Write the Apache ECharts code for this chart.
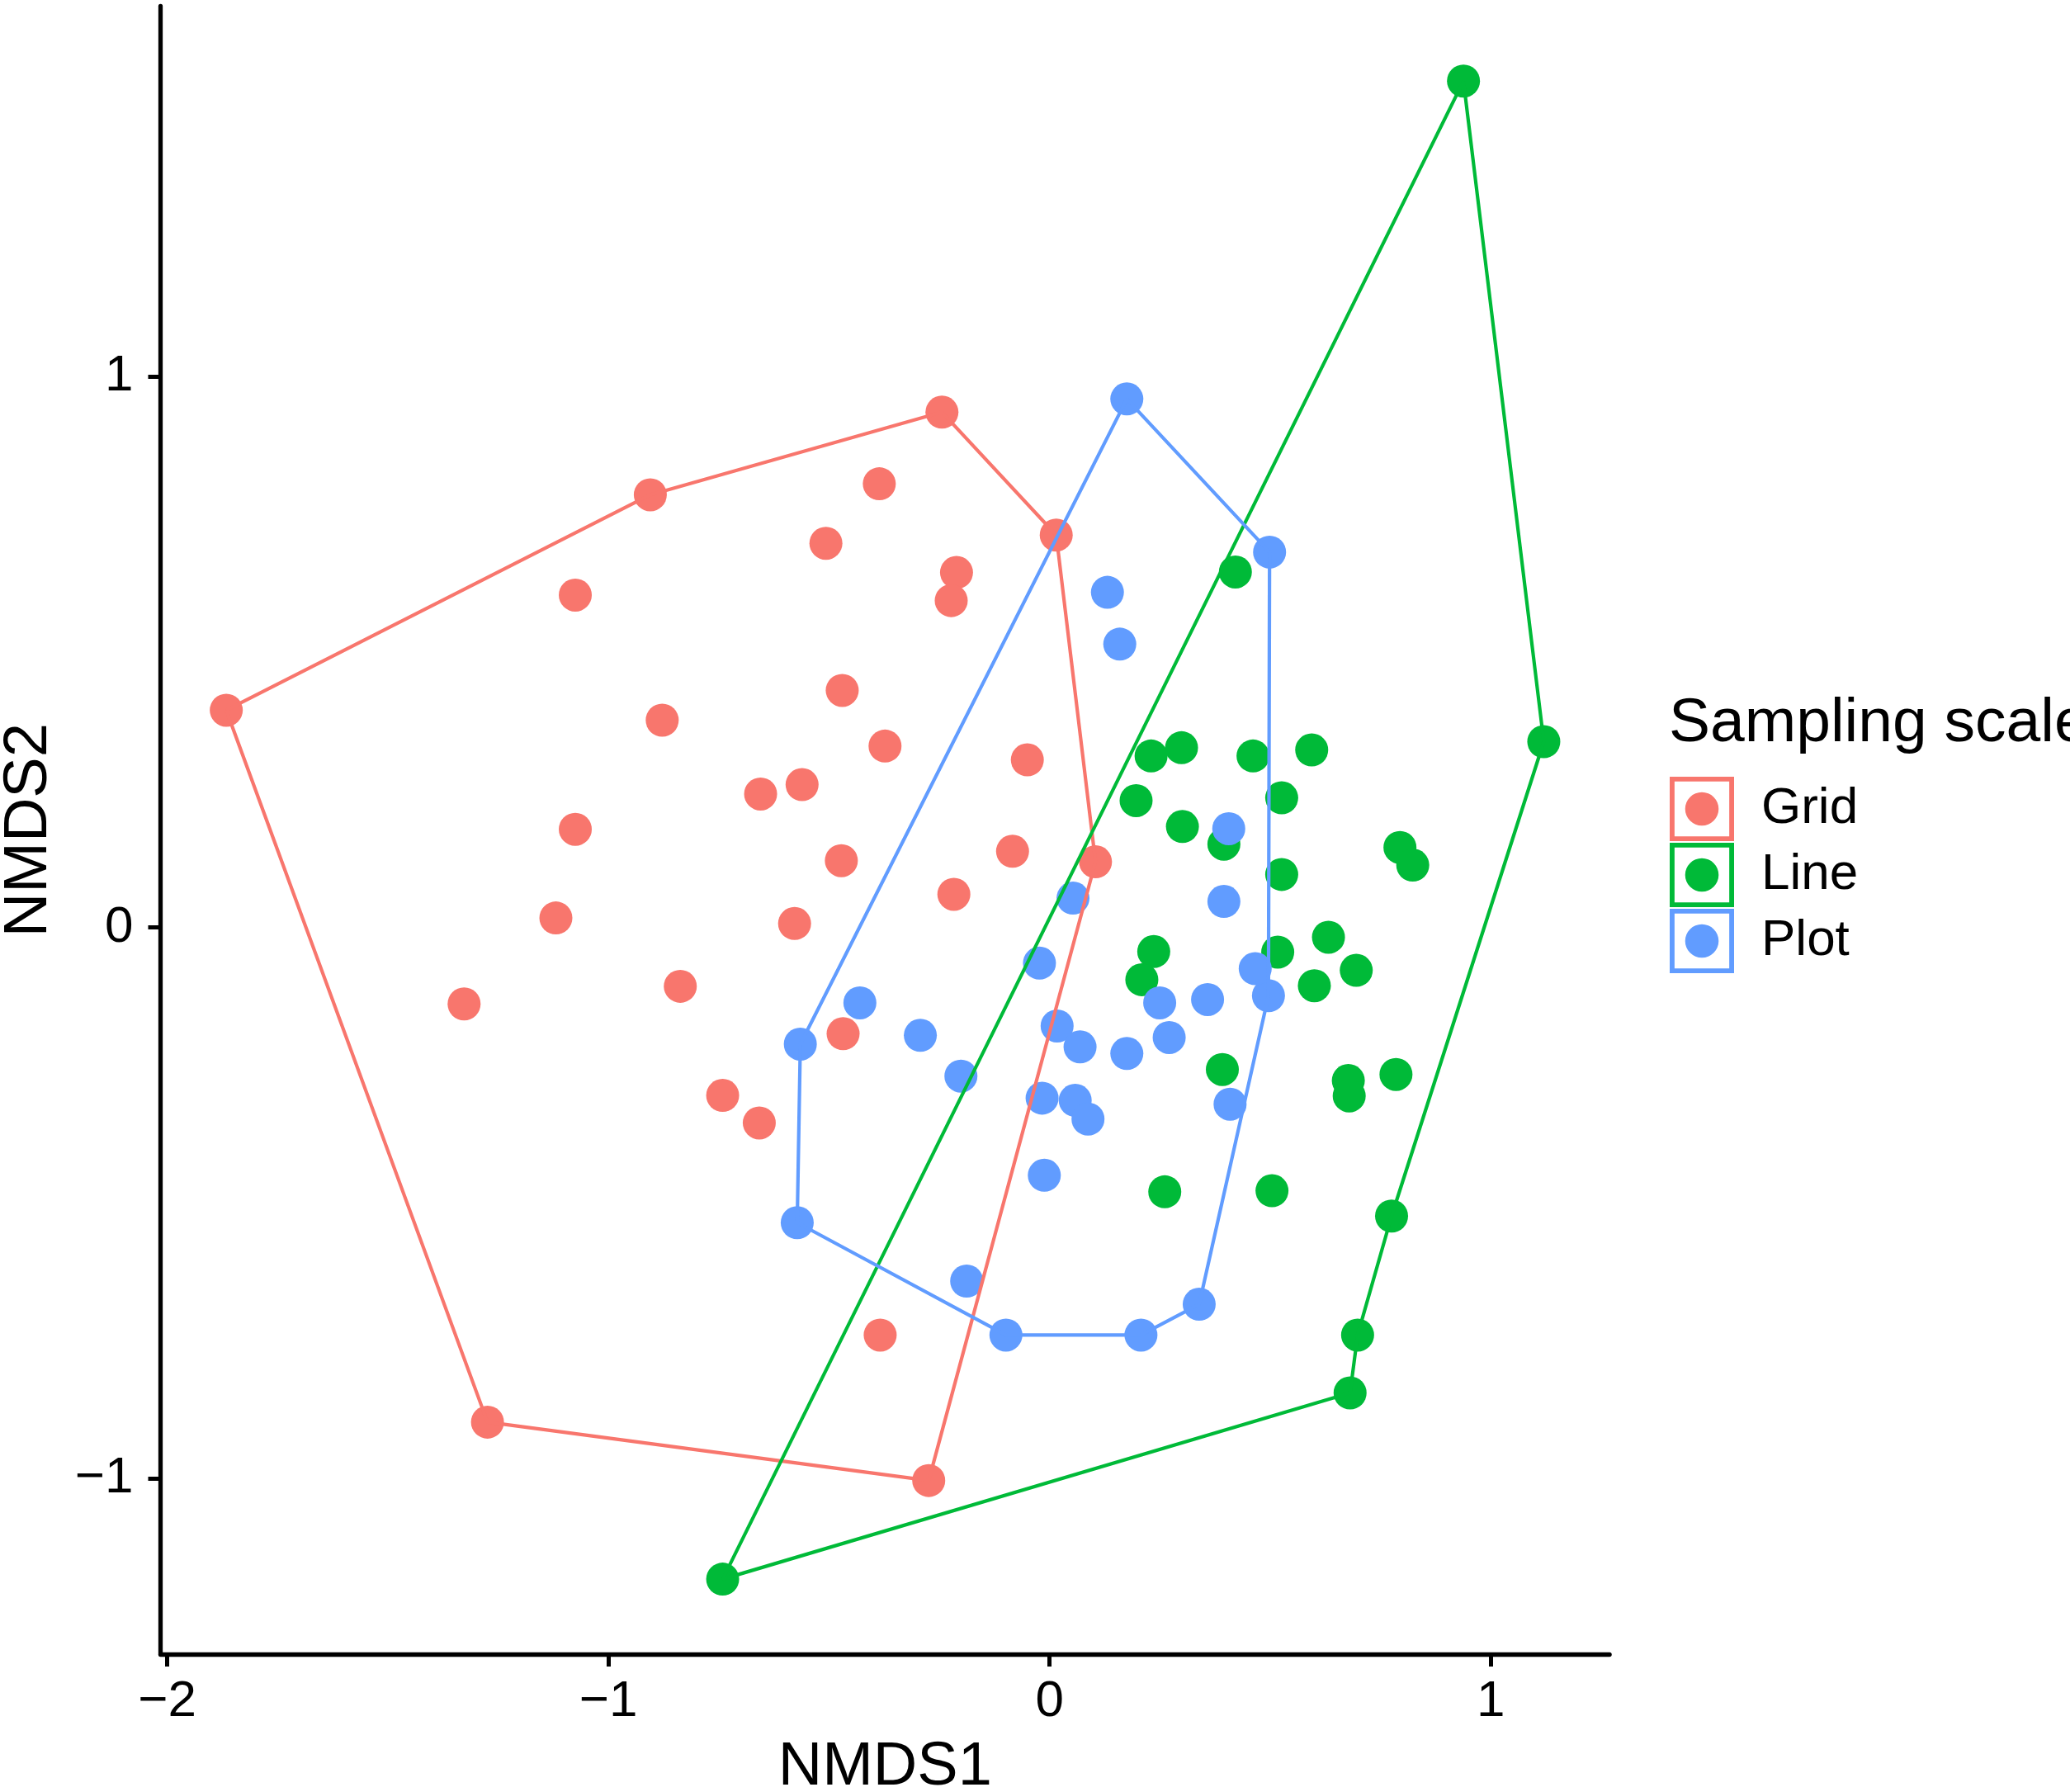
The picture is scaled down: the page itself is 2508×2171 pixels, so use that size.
<!DOCTYPE html>
<html>
<head>
<meta charset="utf-8">
<script src="https://cdn.jsdelivr.net/npm/echarts@6/dist/echarts.min.js"></script>
<style>
html,body{margin:0;padding:0;background:#fff;}
#chart{width:2508px;height:2171px;}
</style>
</head>
<body>
<div id="chart"></div>
<script>
// ---- data (NMDS1, NMDS2); hull vertices listed first in each group ----
const gridPoints = [
  [-1.866, 0.394], [-0.905, 0.785], [-0.244, 0.935], [0.015, 0.712], [0.104, 0.119],
  [-0.274, -1.004], [-1.274, -0.898],
  [-0.386, 0.805], [-0.507, 0.697], [-0.211, 0.644], [-0.223, 0.593], [-1.075, 0.603],
  [-0.470, 0.430], [-0.878, 0.376], [-0.373, 0.329], [-0.561, 0.259], [-0.655, 0.242],
  [-0.0505, 0.304], [-1.075, 0.178], [-0.472, 0.121], [-0.217, 0.060], [-1.119, 0.017],
  [-0.578, 0.007], [-1.327, -0.139], [-0.837, -0.107], [-0.468, -0.193], [-0.741, -0.305],
  [-0.658, -0.355], [-0.384, -0.740], [-0.084, 0.138]
];
const linePoints = [
  [0.938, 1.536], [1.120, 0.337], [0.775, -0.524], [0.698, -0.740], [0.681, -0.845],
  [-0.741, -1.183],
  [0.421, 0.645], [0.230, 0.311], [0.299, 0.326], [0.461, 0.311], [0.594, 0.322],
  [0.196, 0.230], [0.526, 0.235], [0.301, 0.183], [0.395, 0.151], [0.526, 0.096],
  [0.794, 0.145], [0.823, 0.113], [0.236, -0.044], [0.209, -0.095], [0.517, -0.045],
  [0.632, -0.018], [0.695, -0.078], [0.600, -0.106], [0.3915, -0.258], [0.677, -0.278],
  [0.679, -0.306], [0.785, -0.267], [0.261, -0.480], [0.504, -0.478]
];
const plotPoints = [
  [0.175, 0.959], [0.4985, 0.681], [0.496, -0.124], [0.339, -0.684], [0.207, -0.740],
  [-0.099, -0.740], [-0.572, -0.536], [-0.565, -0.212],
  [0.131, 0.608], [0.159, 0.514], [0.406, 0.179], [0.053, 0.053], [0.395, 0.047],
  [-0.023, -0.065], [0.466, -0.075], [-0.430, -0.137], [-0.293, -0.196], [0.2495, -0.137],
  [0.358, -0.131], [0.017, -0.179], [0.069, -0.217], [0.175, -0.229], [0.271, -0.200],
  [-0.201, -0.270], [-0.017, -0.310], [0.058, -0.314], [0.087, -0.348], [0.409, -0.321],
  [-0.012, -0.450], [-0.188, -0.642]
];
// hull polygon order (indices into the point arrays), closed
const gridHull = [0, 1, 2, 3, 4, 5, 6, 0];
const lineHull = [0, 1, 2, 3, 4, 5, 0];
const plotHull = [0, 1, 2, 3, 4, 5, 6, 7, 0];

const groupNames = ['Grid', 'Line', 'Plot'];
const groupColors = ['#F8766D', '#00BA38', '#619CFF'];
const legendTitle = 'Sampling scale';
const xTickValues = [-2, -1, 0, 1];
const xTickLabels = ['\u22122', '\u22121', '0', '1'];
const yTickValues = [-1, 0, 1];
const yTickLabels = ['\u22121', '0', '1'];
const xName = 'NMDS1';
const yName = 'NMDS2';

const FONT = '"Liberation Sans", Arial, Helvetica, sans-serif';
const groups = [gridPoints, linePoints, plotPoints];
const hulls = [gridHull, lineHull, plotHull];

const iconPath = 'path://M0,0H100V100H0Z M7.5,7.5V92.5H92.5V7.5Z M50,24A26,26 0 1,0 50,76A26,26 0 1,0 50,24Z';

const series = [];
groups.forEach((pts, i) => {
  series.push({
    name: groupNames[i], type: 'scatter', data: pts, symbol: 'circle', symbolSize: 40,
    itemStyle: { color: groupColors[i], opacity: 1 }, z: 2, animation: false, silent: true
  });
});
groups.forEach((pts, i) => {
  series.push({
    name: groupNames[i] + ' hull', type: 'line', data: hulls[i].map(k => pts[k]),
    symbol: 'none', showSymbol: false, lineStyle: { color: groupColors[i], width: 4.2 },
    itemStyle: { color: groupColors[i] }, z: 3, animation: false, silent: true
  });
});

const chart = echarts.init(document.getElementById('chart'), null, { renderer: 'canvas' });
chart.setOption({
  backgroundColor: '#ffffff',
  animation: false,
  title: {
    text: legendTitle, left: 2017, top: 835,
    textStyle: { fontFamily: FONT, fontSize: 75, fontWeight: 'normal', color: '#000' }
  },
  legend: {
    data: groupNames.map((n, i) => ({ name: n, icon: iconPath, itemStyle: { color: groupColors[i] } })),
    orient: 'vertical', left: 2018, top: 936,
    itemWidth: 78, itemHeight: 78, itemGap: 2,
    textStyle: { fontFamily: FONT, fontSize: 62, color: '#000', padding: [0, 0, 0, 28] },
    selectedMode: false
  },
  grid: { left: 194.5, right: 557.9, top: 7.4, bottom: 167.1, containLabel: false, outerBoundsMode: 'none' },
  xAxis: {
    type: 'value', min: -2.015, max: 1.269,
    name: xName, nameLocation: 'middle', nameGap: 101,
    nameTextStyle: { fontFamily: FONT, fontSize: 74, color: '#000' },
    axisLine: { show: true, onZero: false, lineStyle: { color: '#000', width: 5.3 } },
    axisTick: { show: true, length: 15, lineStyle: { color: '#000', width: 5 }, customValues: xTickValues },
    axisLabel: {
      show: true, margin: 27, fontFamily: FONT, fontSize: 62, color: '#000',
      customValues: xTickValues,
      formatter: v => { const k = xTickValues.indexOf(Math.round(v)); return k >= 0 ? xTickLabels[k] : ''; }
    },
    splitLine: { show: false }
  },
  yAxis: {
    type: 'value', min: -1.319, max: 1.672,
    name: yName, nameLocation: 'middle', nameGap: 122,
    nameTextStyle: { fontFamily: FONT, fontSize: 74, color: '#000' },
    axisLine: { show: true, onZero: false, lineStyle: { color: '#000', width: 5.3 } },
    axisTick: { show: true, length: 15, lineStyle: { color: '#000', width: 5 }, customValues: yTickValues },
    axisLabel: {
      show: true, margin: 33, fontFamily: FONT, fontSize: 62, color: '#000',
      customValues: yTickValues,
      formatter: v => { const k = yTickValues.indexOf(Math.round(v)); return k >= 0 ? yTickLabels[k] : ''; }
    },
    splitLine: { show: false }
  },
  series: series
});
</script>
</body>
</html>
